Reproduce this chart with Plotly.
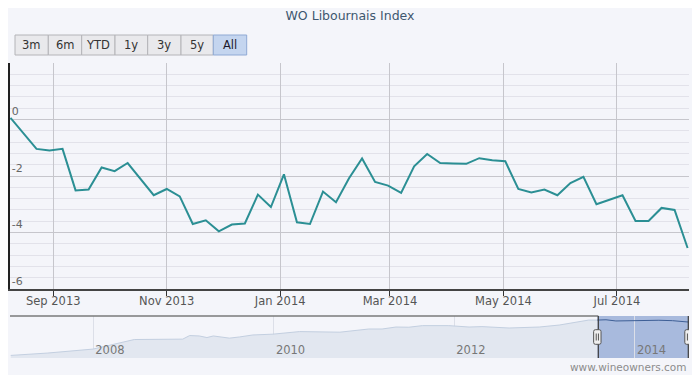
import plotly.graph_objects as go
import pandas as pd

# ---------------- data ----------------
chart_title = "WO Libournais Index"
start_date = "2013-08-09"
pct_change = [0.06, -0.49, -1.04, -1.10, -1.04, -2.51, -2.48, -1.70, -1.83, -1.54,
              -2.12, -2.68, -2.46, -2.72, -3.70, -3.57, -3.96, -3.72, -3.68, -2.66,
              -3.10, -1.94, -3.64, -3.70, -2.55, -2.93, -2.08, -1.38, -2.21, -2.34,
              -2.60, -1.66, -1.22, -1.54, -1.56, -1.57, -1.37, -1.44, -1.48, -2.46,
              -2.58, -2.48, -2.68, -2.25, -2.03, -3.00, -2.84, -2.68, -3.59, -3.59,
              -3.13, -3.20, -4.55]
weekly_dates = pd.date_range(start_date, periods=len(pct_change), freq="7D")

nav_dates = ["2007-02-01", "2007-07-01", "2008-01-01", "2008-04-20", "2008-06-15",
             "2008-12-28", "2009-01-25", "2009-03-05", "2009-04-05", "2009-05-01",
             "2009-07-05", "2009-08-15", "2009-10-08", "2009-12-28", "2010-04-15",
             "2010-09-25", "2010-12-01", "2011-01-20", "2011-03-15", "2011-05-10",
             "2011-07-01", "2011-08-25", "2011-12-10", "2012-03-01", "2012-04-22",
             "2012-08-10", "2012-12-10", "2013-03-01", "2013-06-28", "2013-08-02"]
nav_values = [100, 106, 116, 131, 140,
              141, 150, 149, 145, 149,
              143.5, 146.5, 151.5, 153.5, 160,
              158.5, 164, 166.5, 166.5, 171.5,
              171, 175, 175, 171.5, 172.5,
              169, 171.5, 176.5, 189, 189]
sel_dates = ["2013-08-02", "2013-09-06", "2013-10-16", "2013-11-25", "2014-01-01",
             "2014-02-13", "2014-04-08", "2014-06-02", "2014-07-24", "2014-08-06"]
sel_values = [189, 189.75, 186.75, 187.5, 188.5, 189, 188.5, 187.5, 185, 184]

range_buttons = ["3m", "6m", "YTD", "1y", "3y", "5y", "All"]
active_button = "All"
credits_text = "www.wineowners.com"

# ---------------- layout helpers (reference pixel -> paper) ----------------
# the page body has an 8px default margin, so the figure is drawn 8px smaller
OFF = 8
W, H = 700 - OFF, 375 - OFF
ML, MR, MT, MB = 10 - OFF, 11, 63 - OFF, 17
PW, PH = W - ML - MR, H - MT - MB


def X(px):
    return (px - OFF - ML) / PW


def Y(py):
    return (H - MB - (py - OFF)) / PH


FONT = "DejaVu Sans"
BG = "#f4f5fa"

fig = go.Figure()

# navigator area (unselected part)
fig.add_trace(go.Scatter(x=nav_dates, y=nav_values, xaxis="x2", yaxis="y2",
                         mode="lines", line=dict(color="#c3cfe0", width=1),
                         fill="tozeroy", fillcolor="#e2e7f0", hoverinfo="skip",
                         showlegend=False))
# navigator selected part
fig.add_trace(go.Scatter(x=sel_dates, y=sel_values, xaxis="x2", yaxis="y2",
                         mode="lines", line=dict(color="#3e5f96", width=1),
                         hoverinfo="skip", showlegend=False))
# main series
fig.add_trace(go.Scatter(x=weekly_dates, y=pct_change, mode="lines",
                         line=dict(color="#2b8f94", width=2), name=chart_title,
                         showlegend=False))

shapes = []
annotations = []

# selected zone mask in navigator
shapes.append(dict(type="rect", xref="x2", yref="y2 domain", x0=sel_dates[0],
                   x1=sel_dates[-1], y0=0, y1=1, layer="below",
                   fillcolor="rgba(100,135,195,0.53)", line=dict(width=0)))
# navigator outline
shapes.append(dict(type="line", xref="paper", yref="paper", x0=X(10), x1=X(598.3),
                   y0=Y(316), y1=Y(316), line=dict(color="#7a7a7a", width=1.5)))
for xp in (598.3, 688.3):
    shapes.append(dict(type="line", xref="paper", yref="paper", x0=X(xp), x1=X(xp),
                       y0=Y(316), y1=Y(358), line=dict(color="#3a3a3a", width=1.2)))
# handles
handle_path = ("M-3.7,-5.5 Q-3.7,-7.3 -1.9,-7.3 L1.9,-7.3 Q3.7,-7.3 3.7,-5.5 "
               "L3.7,5.5 Q3.7,7.3 1.9,7.3 L-1.9,7.3 Q-3.7,7.3 -3.7,5.5 Z")
for d in (sel_dates[0], sel_dates[-1]):
    shapes.append(dict(type="path", xref="x2", yref="y2 domain", xsizemode="pixel",
                       ysizemode="pixel", xanchor=d, yanchor=0.5, path=handle_path,
                       fillcolor="#efefef", line=dict(color="#555", width=1)))
    for dx in (-1.1, 1.1):
        shapes.append(dict(type="line", xref="x2", yref="y2 domain", xsizemode="pixel",
                           ysizemode="pixel", xanchor=d, yanchor=0.5,
                           x0=dx, x1=dx, y0=-3.5, y1=3.5,
                           line=dict(color="#555", width=1)))

# range selector buttons
btn_edges = [15, 48.3, 81.7, 115, 147.7, 181, 213.3, 246.7]
for i, label in enumerate(range_buttons):
    active = label == active_button
    shapes.append(dict(type="rect", xref="paper", yref="paper",
                       x0=X(btn_edges[i]), x1=X(btn_edges[i + 1]), y0=Y(55), y1=Y(35),
                       fillcolor="#c4d5ef" if active else "#e9e9ec",
                       line=dict(color="#8fa9d4" if active else "#b4b4b8", width=1)))
    annotations.append(dict(text=label, xref="paper", yref="paper",
                            x=X((btn_edges[i] + btn_edges[i + 1]) / 2), y=Y(45.5),
                            xanchor="center", yanchor="middle", showarrow=False,
                            font=dict(family=FONT, size=11.5,
                                      color="#1a1a2a" if active else "#333")))

annotations.append(dict(text=credits_text, xref="paper", yref="paper", x=X(688),
                        y=Y(366.5), xanchor="right", yanchor="middle",
                        showarrow=False, font=dict(family=FONT, size=10.5, color="#8c8c8c")))

fig.update_layout(
    template="none",
    width=W, height=H,
    margin=dict(l=ML, r=MR, t=MT, b=MB, autoexpand=False),
    paper_bgcolor=BG, plot_bgcolor=BG,
    font=dict(family=FONT),
    title=dict(text=chart_title, x=(350 - OFF) / W, xref="container",
               y=1 - (15.5 - OFF) / H, yref="container", xanchor="center",
               yanchor="middle",
               font=dict(family=FONT, size=12.5, color="#3E576F")),
    showlegend=False,
    xaxis=dict(domain=[0, 1], anchor="y",
               range=["2013-08-08 18:00", "2014-08-08 18:00"],
               tick0="2013-09-01", dtick="M2", tickformat="%b %Y",
               ticks="outside", ticklen=5, tickcolor="#333", tickwidth=1,
               ticklabelstandoff=-5,
               showline=True, linecolor="#444", linewidth=1.5,
               showgrid=True, gridcolor="#c6c6cc", gridwidth=1,
               tickfont=dict(family=FONT, size=11.5, color="#555"), zeroline=False),
    yaxis=dict(domain=[Y(289), 1], anchor="x", range=[-6, 2],
               tickmode="array", tickvals=[-6, -4, -2, 0, 2],
               ticktext=["-6", "-4", "-2", "0", ""],
               ticklabelposition="inside top", ticks="outside", ticklen=5,
               tickcolor="#333", showline=True, linecolor="#222", linewidth=2,
               showgrid=True, gridcolor="#c6c6cc", gridwidth=1, zeroline=False,
               minor=dict(dtick=0.4, tick0=0, showgrid=True, gridcolor="#e2e2ea",
                          ticks=""),
               tickfont=dict(family=FONT, size=11, color="#666")),
    xaxis2=dict(domain=[0, 1], anchor="y2", range=["2007-01-29", "2014-08-08"],
                tick0="2008-01-01", dtick="M24", tickformat="%Y",
                ticklabelposition="inside right", ticks="", showline=False,
                ticklabelstandoff=-4, ticklabelshift=2,
                showgrid=True, gridcolor="#dcdfe8", zeroline=False,
                tickfont=dict(family=FONT, size=11.5, color="#777")),
    yaxis2=dict(domain=[0, Y(316)], anchor="x2", range=[93.5, 199.25],
                visible=False),
    shapes=shapes,
    annotations=annotations,
)

fig.write_html("out.html")
